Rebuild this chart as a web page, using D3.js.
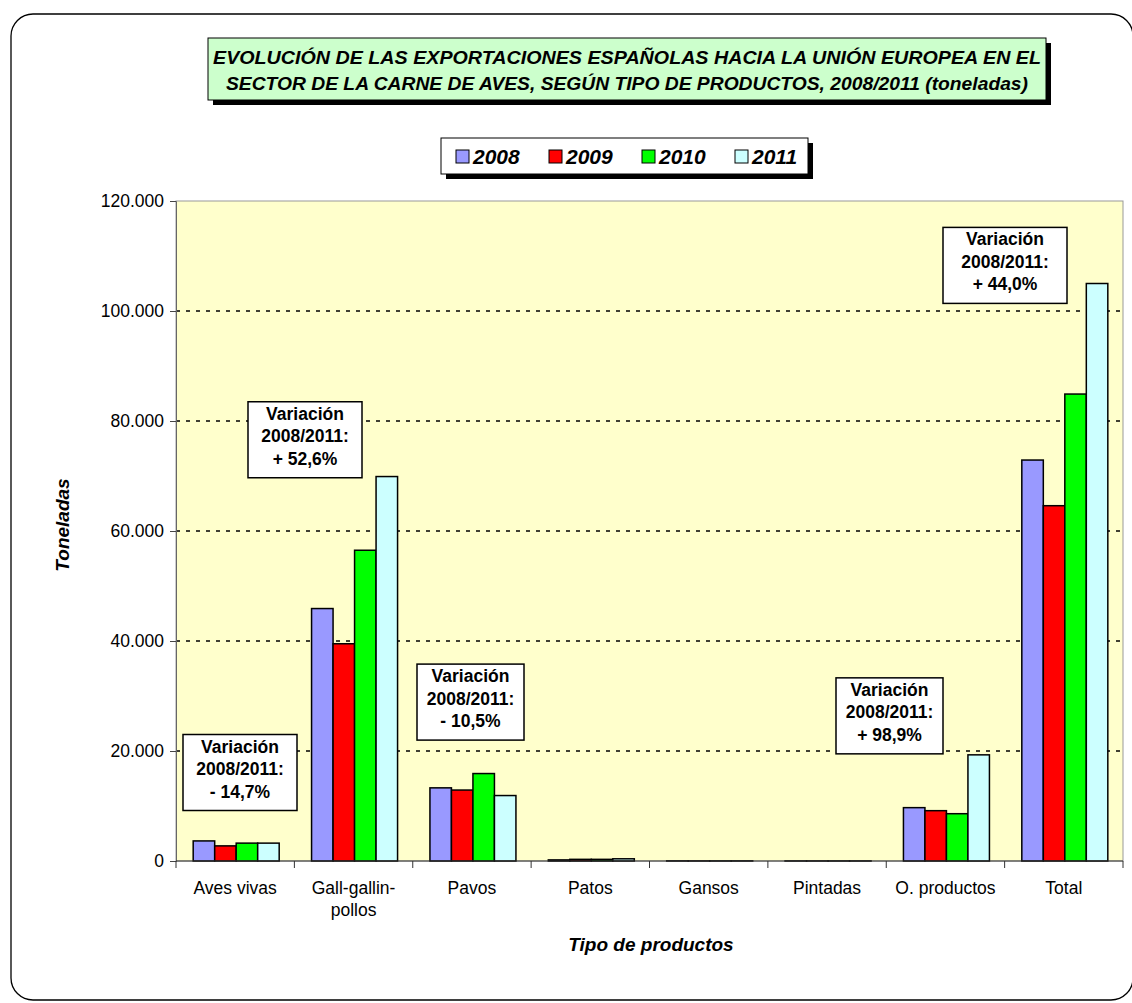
<!DOCTYPE html>
<html>
<head>
<meta charset="utf-8">
<script src="https://cdn.jsdelivr.net/npm/d3@7"></script>
<style>
  body { margin: 0; background: #fff; }
  text { font-family: Arial, "Liberation Sans", sans-serif; }
</style>
</head>
<body>
<svg width="1132" height="1003"></svg>
<script>
// data (toneladas)
const categories = ["Aves vivas", "Gall-gallin-pollos", "Pavos", "Patos", "Gansos", "Pintadas", "O. productos", "Total"];
const years = ["2008", "2009", "2010", "2011"];
const v2008 = [3650, 45900, 13300, 200, 20, 10, 9700, 72900];
const v2009 = [2750, 39500, 12900, 300, 15, 10, 9150, 64600];
const v2010 = [3250, 56500, 15900, 300, 15, 10, 8600, 84900];
const v2011 = [3250, 69900, 11900, 400, 20, 10, 19300, 105000];
const yTicks = [0, 20000, 40000, 60000, 80000, 100000, 120000];
const notes = [
  { cat: "Aves vivas", text: "- 14,7%" },
  { cat: "Gall-gallin-pollos", text: "+ 52,6%" },
  { cat: "Pavos", text: "- 10,5%" },
  { cat: "O. productos", text: "+ 98,9%" },
  { cat: "Total", text: "+ 44,0%" }
];
const colors = { "2008": "#9999FF", "2009": "#FF0000", "2010": "#00FF00", "2011": "#CCFFFF" };

const series = { "2008": v2008, "2009": v2009, "2010": v2010, "2011": v2011 };
const rows = categories.map((c, i) => ({ cat: c, values: years.map(y => ({ year: y, value: series[y][i] })) }));

const svg = d3.select("svg");
const plot = { left: 176, right: 1123, top: 201, bottom: 861 };

// outer rounded frame
svg.append("rect")
  .attr("x", 11).attr("y", 14).attr("width", 1122).attr("height", 986)
  .attr("rx", 22)
  .attr("fill", "none").attr("stroke", "#000").attr("stroke-width", 1.3);

const x0 = d3.scaleBand().domain(categories).range([plot.left, plot.right]);
const groupW = 86;
const x1 = d3.scaleBand().domain(years)
  .range([(x0.bandwidth() - groupW) / 2 + 1, (x0.bandwidth() + groupW) / 2 + 1]);
const y = d3.scaleLinear().domain([0, 120000]).range([plot.bottom, plot.top]);

const locale = d3.formatLocale({ decimal: ",", thousands: ".", grouping: [3], currency: ["", ""] });
const fmt = locale.format(",");

// plot area
svg.append("rect")
  .attr("x", plot.left).attr("y", plot.top)
  .attr("width", plot.right - plot.left).attr("height", plot.bottom - plot.top)
  .attr("fill", "#FFFFCC").attr("stroke", "#999").attr("stroke-width", 1);

// gridlines
svg.append("g").selectAll("line")
  .data(yTicks.filter(d => d > 0 && d < 120000))
  .join("line")
  .attr("x1", plot.left).attr("x2", plot.right)
  .attr("y1", d => y(d)).attr("y2", d => y(d))
  .attr("stroke", "#000").attr("stroke-width", 1.5)
  .attr("stroke-dasharray", "4,6");

// y axis
const yAxis = svg.append("g")
  .attr("transform", `translate(${plot.left},0)`)
  .call(d3.axisLeft(y).tickValues(yTicks).tickFormat(fmt).tickSizeOuter(0).tickSize(6).tickPadding(6));
yAxis.select(".domain").attr("stroke", "#666");
yAxis.selectAll(".tick line").attr("stroke", "#444");
yAxis.selectAll("text").attr("font-size", 17.5).attr("fill", "#000")
  .style("font-family", "Arial, 'Liberation Sans', sans-serif");

// bars
const groups = svg.append("g").selectAll("g")
  .data(rows).join("g")
  .attr("transform", d => `translate(${x0(d.cat)},0)`);
groups.selectAll("rect")
  .data(d => d.values).join("rect")
  .attr("x", d => x1(d.year))
  .attr("width", x1.bandwidth())
  .attr("y", d => y(d.value))
  .attr("height", d => y(0) - y(d.value))
  .attr("fill", d => colors[d.year])
  .attr("stroke", "#000").attr("stroke-width", 1.5);

// x axis
const xAxisG = svg.append("g").attr("transform", `translate(0,${plot.bottom})`);
xAxisG.append("line")
  .attr("x1", plot.left).attr("x2", plot.right)
  .attr("stroke", "#333").attr("stroke-width", 1);
const boundaries = categories.map(c => x0(c)).concat([plot.right]);
xAxisG.selectAll(".xt").data(boundaries).join("line")
  .attr("class", "xt")
  .attr("x1", d => d).attr("x2", d => d).attr("y1", 0).attr("y2", 7)
  .attr("stroke", "#333");
xAxisG.selectAll(".xl").data(categories).join("text")
  .attr("class", "xl")
  .attr("text-anchor", "middle")
  .attr("x", d => x0(d) + x0.bandwidth() / 2)
  .attr("y", 33)
  .attr("font-size", 17.5)
  .each(function (d) {
    const parts = d === "Gall-gallin-pollos" ? ["Gall-gallin-", "pollos"] : [d];
    d3.select(this).selectAll("tspan").data(parts).join("tspan")
      .attr("x", x0(d) + x0.bandwidth() / 2)
      .attr("dy", (p, i) => i === 0 ? 0 : 22)
      .text(p => p);
  });

// axis titles
svg.append("text")
  .attr("x", 651).attr("y", 951)
  .attr("text-anchor", "middle")
  .attr("font-size", 19).attr("font-weight", "bold").attr("font-style", "italic")
  .text("Tipo de productos");
svg.append("text")
  .attr("transform", "translate(69,525) rotate(-90)")
  .attr("text-anchor", "middle")
  .attr("font-size", 19).attr("font-weight", "bold").attr("font-style", "italic")
  .text("Toneladas");

// annotations
const notePos = {
  "Aves vivas": { x: 183, w: 114, yTop: 23000 },
  "Gall-gallin-pollos": { x: 248, w: 114, yTop: 83500 },
  "Pavos": { x: 417, w: 107, yTop: 35800 },
  "O. productos": { x: 836, w: 107, yTop: 33300 },
  "Total": { x: 943, w: 124, yTop: 115200 }
};
notes.forEach(n => {
  const p = notePos[n.cat];
  const top = y(p.yTop);
  const g = svg.append("g").attr("transform", `translate(${p.x},${top})`);
  g.append("rect").attr("width", p.w).attr("height", 76)
    .attr("fill", "#fff").attr("stroke", "#000").attr("stroke-width", 1.5);
  ["Variación", "2008/2011:", n.text].forEach((t, i) => {
    g.append("text")
      .attr("x", p.w / 2).attr("y", 18 + i * 22.5)
      .attr("text-anchor", "middle").attr("font-size", 17.5).attr("font-weight", "bold")
      .text(t);
  });
});

// title box
svg.append("rect").attr("x", 213).attr("y", 43).attr("width", 838).attr("height", 62).attr("fill", "#000");
svg.append("rect").attr("x", 208).attr("y", 38).attr("width", 838).attr("height", 62)
  .attr("fill", "#CCFFCC").attr("stroke", "#000").attr("stroke-width", 1);
const titleLines = [
  { t: "EVOLUCIÓN DE LAS EXPORTACIONES ESPAÑOLAS HACIA LA UNIÓN EUROPEA EN EL", y: 64, len: 828 },
  { t: "SECTOR DE LA CARNE DE AVES, SEGÚN TIPO DE PRODUCTOS, 2008/2011 (toneladas)", y: 90, len: 802 }
];
titleLines.forEach(l => {
  svg.append("text")
    .attr("x", 627).attr("y", l.y)
    .attr("text-anchor", "middle")
    .attr("font-size", 19).attr("font-weight", "bold").attr("font-style", "italic")
    .attr("textLength", l.len).attr("lengthAdjust", "spacingAndGlyphs")
    .style("font-family", "'Liberation Sans Narrow', 'Arial Narrow', Arial, sans-serif")
    .text(l.t);
});

// legend
svg.append("rect").attr("x", 446).attr("y", 143).attr("width", 367).attr("height", 36).attr("fill", "#000");
svg.append("rect").attr("x", 441).attr("y", 138).attr("width", 367).attr("height", 36)
  .attr("fill", "#fff").attr("stroke", "#000").attr("stroke-width", 1);
const lg = svg.append("g").selectAll("g").data(years).join("g")
  .attr("transform", (d, i) => `translate(${456 + i * 93},150)`);
lg.append("rect").attr("width", 13).attr("height", 13)
  .attr("fill", d => colors[d]).attr("stroke", "#000").attr("stroke-width", 1);
lg.append("text").attr("x", 17).attr("y", 14)
  .attr("font-size", 21).attr("font-weight", "bold").attr("font-style", "italic")
  .text(d => d);
</script>
</body>
</html>
